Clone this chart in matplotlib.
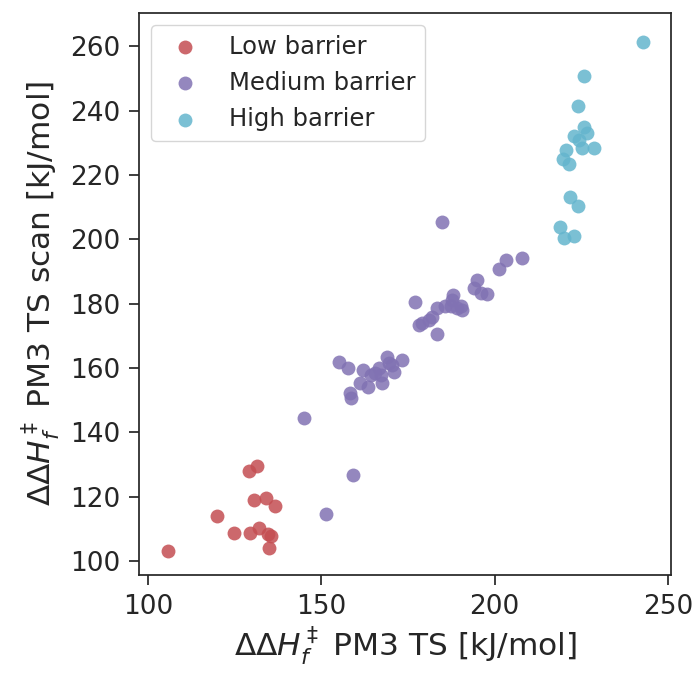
import numpy as np
import matplotlib
matplotlib.use("Agg")
import matplotlib.pyplot as plt

# PM3 TS enthalpy barrier vs. TS-scan barrier, kJ/mol
low_x = [105.9, 119.8, 124.9, 129.0, 131.4, 129.5, 130.7, 134.1, 136.5, 131.9, 134.6, 135.5, 134.8]
low_y = [103.2, 113.8, 108.8, 128.0, 129.4, 108.8, 119.0, 119.6, 116.9, 110.1, 108.4, 107.6, 104.0]

med_x = [145.1, 158.4, 158.6, 155.1, 157.6, 161.3, 162.1, 163.4, 164.2, 165.6,
         166.6, 167.5, 167.1, 169.0, 169.5, 170.9, 170.4, 173.3, 177.1, 178.1,
         179.0, 181.0, 182.0, 183.4, 183.4, 184.7, 185.8, 187.8, 188.0, 187.3,
         189.2, 190.7, 190.2, 194.0, 195.0, 196.0, 197.9, 201.3, 203.4, 207.9,
         159.0, 151.4]
med_y = [144.3, 152.1, 150.6, 161.8, 160.0, 155.4, 159.3, 154.0, 157.8, 158.3,
         160.0, 155.4, 157.8, 163.5, 161.5, 158.8, 161.0, 162.5, 180.6, 173.3,
         173.8, 175.0, 175.8, 170.5, 178.6, 205.3, 179.3, 181.2, 182.7, 179.1,
         178.6, 178.1, 179.1, 184.8, 187.3, 183.4, 182.9, 190.7, 193.6, 194.1,
         126.7, 114.7]

high_x = [242.7, 225.8, 224.1, 225.8, 222.9, 226.8, 224.4, 225.1, 228.7, 220.5,
          219.6, 221.5, 221.8, 224.1, 218.9, 219.9, 222.9]
high_y = [261.4, 250.7, 241.5, 234.8, 232.2, 232.9, 230.7, 228.3, 228.3, 227.6,
          224.9, 223.5, 213.0, 210.4, 203.7, 200.3, 201.0]

groups = [
    ("Low barrier", low_x, low_y, "#c44e52"),
    ("Medium barrier", med_x, med_y, "#8172b3"),
    ("High barrier", high_x, high_y, "#64b5cd"),
]

plt.rcParams["font.family"] = ["DejaVu Sans"]
plt.rcParams["text.color"] = "#262626"
plt.rcParams["axes.labelcolor"] = "#262626"

fig = plt.figure(figsize=(6.94, 6.73), dpi=100)
ax = fig.add_axes([0.2003, 0.1456, 0.7666, 0.8355])

for label, xs, ys, color in groups:
    ax.scatter(xs, ys, s=100, color=color, alpha=0.85, linewidths=0, label=label)

ax.set_xlim(97.4, 250.9)
ax.set_ylim(95.6, 270.4)
ax.set_xticks([100, 150, 200, 250])
ax.set_yticks(np.arange(100, 261, 20))

for side in ax.spines.values():
    side.set_linewidth(1.25)
    side.set_color("#262626")
ax.tick_params(direction="out", length=7.5, width=1.25, colors="#262626",
               labelsize=19, pad=6)

ax.set_xlabel(r"$\Delta\Delta H_f^\ddagger$ PM3 TS [kJ/mol]", fontsize=22.5, labelpad=3)
ax.set_ylabel(r"$\Delta\Delta H_f^\ddagger$ PM3 TS scan [kJ/mol]", fontsize=22.5, labelpad=6)

leg = ax.legend(loc="upper left", fontsize=17.5, frameon=True, fancybox=True,
                edgecolor="#cccccc", framealpha=0.8)
leg.get_frame().set_linewidth(1.0)

fig.savefig("out.png", dpi=100)
